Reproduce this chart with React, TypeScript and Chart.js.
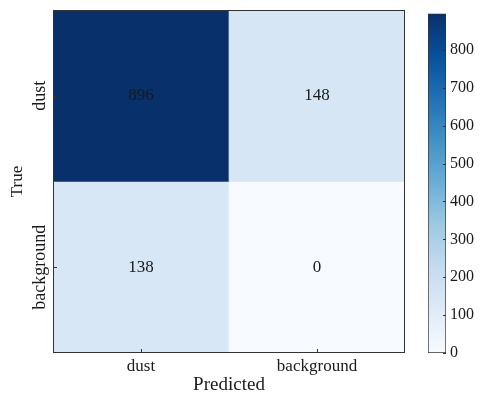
import React, { useEffect, useRef } from "react";
import { Chart, registerables } from "chart.js";

Chart.register(...registerables);

// ---- data ----
const predictedLabels = ["dust", "background"];
const trueLabels = ["dust", "background"];
const rowDust = [896, 148];
const rowBackground = [138, 0];
const colorbarStep = 100;

// ---- style ----
const FONT = '"Liberation Serif", "Times New Roman", serif';
const INK = "#1a1a1a";
const BLUES = [
  [0.0, [247, 251, 255]],
  [0.125, [222, 235, 247]],
  [0.25, [198, 219, 239]],
  [0.375, [158, 202, 225]],
  [0.5, [107, 174, 214]],
  [0.625, [66, 146, 198]],
  [0.75, [33, 113, 181]],
  [0.875, [8, 81, 156]],
  [1.0, [8, 48, 107]],
] as [number, number[]][];

function blues(t: number): string {
  const u = Math.max(0, Math.min(1, t));
  for (let i = 1; i < BLUES.length; i++) {
    const [p1, c1] = BLUES[i];
    const [p0, c0] = BLUES[i - 1];
    if (u <= p1) {
      const f = (u - p0) / (p1 - p0);
      const c = c0.map((v, k) => Math.round(v + (c1[k] - v) * f));
      return `rgb(${c[0]},${c[1]},${c[2]})`;
    }
  }
  return "rgb(8,48,107)";
}

export default function App() {
  const mainRef = useRef<HTMLCanvasElement>(null);
  const cbRef = useRef<HTMLCanvasElement>(null);

  useEffect(() => {
    const matrix = [rowDust, rowBackground];
    const all = matrix.flat();
    const cbMin = Math.min(...all);
    const cbMax = Math.max(...all);
    const nRows = matrix.length;

    const yTickSize = 18;
    const meas = document.createElement("canvas").getContext("2d")!;
    meas.font = `${yTickSize}px ${FONT}`;
    const widest = Math.max(...trueLabels.map((l) => meas.measureText(l).width));
    const yLabelCenter = 13; // distance from plot left edge to label centre
    const yPad = yLabelCenter - widest / 2;

    const overlay = {
      id: "overlay",
      afterDatasetsDraw(chart: any) {
        const { ctx, chartArea } = chart;
        const { left, top, right, bottom } = chartArea;
        ctx.save();
        ctx.fillStyle = INK;
        ctx.font = `17px ${FONT}`;
        ctx.textAlign = "center";
        ctx.textBaseline = "middle";
        chart.data.datasets.forEach((ds: any, di: number) => {
          const meta = chart.getDatasetMeta(di);
          meta.data.forEach((el: any, i: number) => {
            const p = el.getProps(["x", "y", "base"], true);
            ctx.fillText(String(matrix[di][i]), p.x, (p.y + p.base) / 2);
          });
        });
        ctx.strokeStyle = "#333";
        ctx.lineWidth = 1;
        ctx.strokeRect(left + 0.5, top + 0.5, right - left - 1, bottom - top - 1);
        // inward ticks
        const xs = chart.scales.x;
        const ys = chart.scales.y;
        ctx.beginPath();
        xs.ticks.forEach((_t: any, i: number) => {
          const px = Math.round(xs.getPixelForTick(i)) + 0.5;
          ctx.moveTo(px, bottom);
          ctx.lineTo(px, bottom - 4);
        });
        ys.ticks.forEach((t: any) => {
          const py = Math.round(ys.getPixelForValue(t.value)) + 0.5;
          ctx.moveTo(left, py);
          ctx.lineTo(left + 4, py);
        });
        ctx.stroke();
        ctx.restore();
      },
    };

    const main = new Chart(mainRef.current!, {
      type: "bar",
      data: {
        labels: predictedLabels,
        datasets: matrix.map((row, r) => ({
          label: trueLabels[r],
          data: row.map(() => [nRows - r - 1, nRows - r]),
          backgroundColor: row.map((v) => blues((v - cbMin) / (cbMax - cbMin))),
          borderWidth: 0,
          barPercentage: 1,
          categoryPercentage: 1,
          grouped: false,
        })) as any,
      },
      options: {
        animation: false,
        responsive: false,
        maintainAspectRatio: false,
        layout: { padding: { top: 10, right: 10, left: 0, bottom: 0 } },
        plugins: { legend: { display: false }, tooltip: { enabled: false } },
        scales: {
          x: {
            type: "category",
            grid: { display: false, drawTicks: false },
            border: { display: false },
            ticks: {
              font: { family: FONT, size: 17 },
              color: INK,
              padding: 3,
              minRotation: 0,
              maxRotation: 0,
            },
            title: {
              display: true,
              text: "Predicted",
              font: { family: FONT, size: 19 },
              color: INK,
              padding: { top: 0, bottom: 0 },
            },
            afterFit: (s: any) => {
              s.height = 43;
            },
          },
          y: {
            type: "linear",
            min: 0,
            max: nRows,
            grid: { display: false, drawTicks: false },
            border: { display: false },
            afterBuildTicks: (s: any) => {
              s.ticks = trueLabels.map((_l, i) => ({ value: i + 0.5 }));
            },
            ticks: {
              font: { family: FONT, size: yTickSize },
              color: INK,
              minRotation: 90,
              maxRotation: 90,
              crossAlign: "center",
              padding: yPad,
              callback: (v: any) => trueLabels[Math.floor(nRows - Number(v))],
            },
            title: {
              display: true,
              text: "True",
              font: { family: FONT, size: 17 },
              color: INK,
              padding: { top: 7, bottom: 0 },
            },
            afterFit: (s: any) => {
              s.width = 53;
            },
          },
        },
      } as any,
      plugins: [overlay],
    });

    const cbTicks = {
      id: "cbTicks",
      afterDatasetsDraw(chart: any) {
        const { ctx, chartArea } = chart;
        const ys = chart.scales.y;
        ctx.save();
        ctx.strokeStyle = "#333";
        ctx.lineWidth = 1;
        ctx.beginPath();
        ys.ticks.forEach((t: any) => {
          const py = Math.round(ys.getPixelForValue(t.value)) + 0.5;
          ctx.moveTo(chartArea.right, py);
          ctx.lineTo(chartArea.right - 3, py);
        });
        ctx.stroke();
        ctx.restore();
      },
    };

    const cb = new Chart(cbRef.current!, {
      type: "bar",
      data: {
        labels: [""],
        datasets: [
          {
            data: [[cbMin, cbMax]] as any,
            backgroundColor: (c: any) => {
              const area = c.chart.chartArea;
              if (!area) return blues(0.5);
              const g = c.chart.ctx.createLinearGradient(0, area.bottom, 0, area.top);
              BLUES.forEach(([p, col]) => g.addColorStop(p, `rgb(${col[0]},${col[1]},${col[2]})`));
              return g;
            },
            borderColor: "#333",
            borderWidth: 1,
            borderSkipped: false,
            barPercentage: 1,
            categoryPercentage: 1,
          } as any,
        ],
      },
      options: {
        animation: false,
        responsive: false,
        maintainAspectRatio: false,
        layout: { padding: { top: 10, right: 0, left: 13, bottom: 43 } },
        plugins: { legend: { display: false }, tooltip: { enabled: false } },
        scales: {
          x: { display: false },
          y: {
            position: "right",
            min: cbMin,
            max: cbMax,
            grid: { display: false, drawTicks: false },
            border: { display: false },
            afterBuildTicks: (s: any) => {
              const t: { value: number }[] = [];
              for (let v = Math.ceil(cbMin / colorbarStep) * colorbarStep; v <= cbMax; v += colorbarStep) {
                t.push({ value: v });
              }
              s.ticks = t;
            },
            ticks: {
              font: { family: FONT, size: 16 },
              color: INK,
              padding: 4,
              callback: (v: any) => String(v),
            },
            afterFit: (s: any) => {
              s.width = 34;
            },
          },
        },
      } as any,
      plugins: [cbTicks],
    });

    return () => {
      main.destroy();
      cb.destroy();
    };
  }, []);

  return (
    <div
      style={{
        position: "fixed",
        left: 0,
        top: 0,
        width: 480,
        height: 396,
        background: "#fff",
      }}
    >
      <canvas
        ref={mainRef}
        width={415}
        height={396}
        style={{ position: "absolute", left: 0, top: 0, width: 415, height: 396 }}
      />
      <canvas
        ref={cbRef}
        width={65}
        height={396}
        style={{ position: "absolute", left: 415, top: 0, width: 65, height: 396 }}
      />
    </div>
  );
}
